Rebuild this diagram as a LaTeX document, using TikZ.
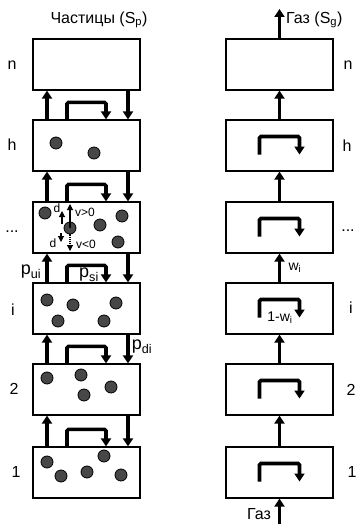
\documentclass[tikz,border=0pt]{standalone}
\usepackage{fontspec}
\setmainfont{Liberation Sans}
\usetikzlibrary{arrows.meta}
\begin{document}
\begin{tikzpicture}[x=1pt,y=-1pt,
  cell/.style={draw,line width=1.3pt,minimum width=107pt,minimum height=51pt,inner sep=0pt},
  flow/.style={line width=3.6pt,-{Triangle[width=10pt,length=8pt]}},
  loopflow/.style={flow,rounded corners=1.5pt},
  thinflow/.style={line width=1.1pt,-{Triangle[width=6pt,length=6pt]}},
  part/.style={circle,draw,line width=0.8pt,fill=black!72,minimum size=12pt,inner sep=0pt},
  lab/.style={font=\fontsize{16}{18}\selectfont,inner sep=0pt},
  plab/.style={font=\fontsize{18}{20}\selectfont,inner sep=0pt},
  slab/.style={font=\fontsize{12}{14}\selectfont,inner sep=0pt},
  mlab/.style={font=\fontsize{14}{16}\selectfont,inner sep=0pt},
]
\useasboundingbox (0,0) rectangle (360,524);
% left column
\node[cell] (Ln) at (86.5,64.5) {};
\node[cell] (Lh) at (86.5,145.5) {};
\node[cell] (Ld) at (86.5,227.5) {};
\node[cell] (Li) at (86.5,308.5) {};
\node[cell] (L2) at (86.5,389.5) {};
\node[cell] (L1) at (86.5,472.5) {};
% right column
\node[cell] (Rn) at (279.5,64.5) {};
\node[cell] (Rh) at (279.5,145.5) {};
\node[cell] (Rd) at (279.5,227.5) {};
\node[cell] (Ri) at (279.5,308.5) {};
\node[cell] (R2) at (279.5,389.5) {};
\node[cell] (R1) at (279.5,472.5) {};
% left flows
\foreach \a/\b in {L1/L2,L2/Li,Li/Ld,Ld/Lh,Lh/Ln}{
  \draw[flow] ([xshift=-39.5pt]\a.north) -- ([xshift=-39.5pt]\b.south);
  \draw[flow] ([xshift=41.5pt]\b.south) -- ([xshift=41.5pt]\a.north);
  \draw[loopflow] ([xshift=-19.5pt]\a.north) -- ++(0,-17) -- ++(39,0) -- ++(0,17);
}
% right flows
\foreach \a/\b in {R1/R2,R2/Ri,Ri/Rd,Rd/Rh,Rh/Rn}{
  \draw[flow] (\a.north) -- (\b.south);
}
\foreach \a in {R1,R2,Ri,Rd,Rh}{
  \draw[loopflow] ([xshift=-20pt,yshift=-9pt]\a.center) -- ++(0,-18) -- ++(40,0) -- ++(0,18);
}
\coordinate (gtop) at (279.5,9);
\coordinate (gbot) at (279.5,524);
\draw[flow] (Rn.north) -- (gtop);
\draw[flow] (gbot) -- (R1.south);
% particles
\foreach \p in {(56,143),(94,153),
  (45,213),(100,225),(122,216),(118,242),
  (47,300),(73,305),(116,303),(58,321),(104,321),
  (47,378),(81,375),(111,387),(84,395),
  (47,462),(61,476),(87,472),(104,456),(121,475)}{
  \node[part] at \p {};
}
\node[part] (V) at (70,228) {};
\coordinate (vup) at (70,204);
\coordinate (vdn) at (70,251);
\draw[thinflow] (V.center) -- (vup);
\draw[thinflow,densely dotted] (V.south) -- (vdn);
\coordinate (du0) at (62,224);
\coordinate (du1) at (62,211);
\coordinate (dd0) at (61,233);
\coordinate (dd1) at (61,242);
\draw[thinflow] (du0) -- (du1);
\draw[thinflow] (dd0) -- (dd1);
\node[slab] (d1) at (57,208) {d};
\node[slab] (d2) at (53,243) {d};
\node[slab,anchor=west] (vp) at (75,212) {v>0};
\node[slab,anchor=west] (vn) at (76,244) {v<0};
% left labels
\node[lab] (ln) at (12,65) {n};
\node[lab] (lh) at (12,145) {h};
\node[lab] (ld) at (12,232) {...};
\node[lab] (li) at (13,310) {i};
\node[lab] (l2) at (14,389) {2};
\node[lab] (l1) at (16,472) {1};
% right labels
\node[lab] (rn) at (348,65) {n};
\node[lab] (rh) at (347,146) {h};
\node[lab] (rd) at (348,231) {...};
\node[lab] (ri) at (351,308) {i};
\node[lab] (r2) at (351,390) {2};
\node[lab] (r1) at (352,472) {1};
% flow labels
\node[plab] (pui) at (31,272) {p\textsubscript{ui}};
\node[plab] (psi) at (89,275) {p\textsubscript{si}};
\node[plab] (pdi) at (142,347) {p\textsubscript{di}};
\node[mlab] (wi) at (295,268) {w\textsubscript{i}};
\node[mlab] (omw) at (280,318) {1-w\textsubscript{i}};
% titles
\node[lab] (tp) at (99,20) {Частицы (S\textsubscript{p})};
\node[lab,anchor=west] (tg) at (286,20) {Газ (S\textsubscript{g})};
\node[lab] (gb) at (259,514) {Газ};
\end{tikzpicture}
\end{document}
